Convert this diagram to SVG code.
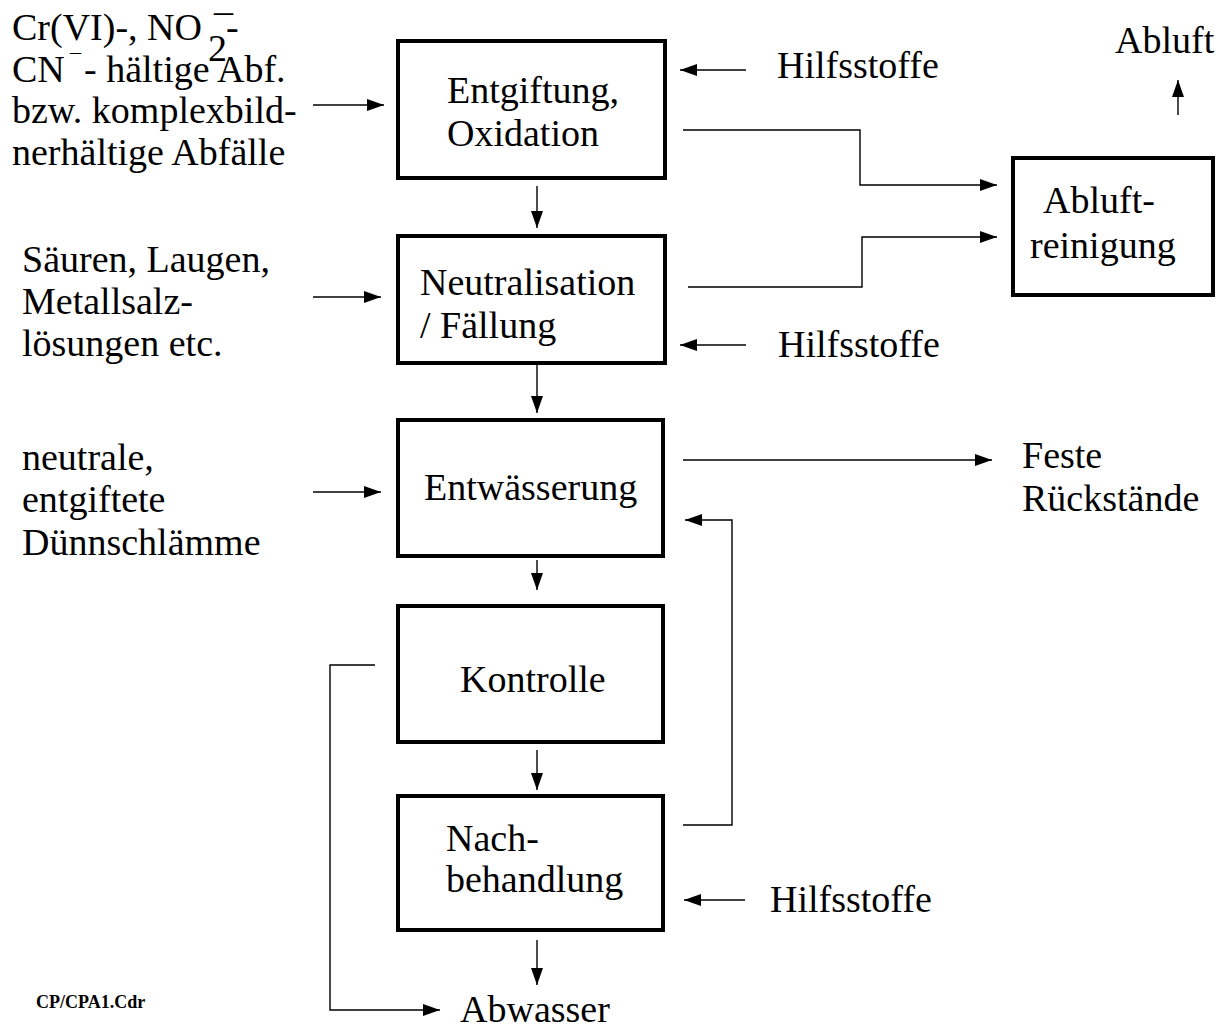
<svg xmlns="http://www.w3.org/2000/svg" width="1225" height="1029" viewBox="0 0 1225 1029">
<defs>
<marker id="ah" markerUnits="userSpaceOnUse" markerWidth="18" markerHeight="12" refX="17" refY="6" orient="auto">
<path d="M0,0 L17,6 L0,12 Z" fill="#000"/>
</marker>
<style>
.box{fill:#fff;stroke:#000;stroke-width:4}
.t{font-family:"Liberation Serif","Times New Roman",serif;font-size:38px;fill:#000}
.c{fill:none;stroke:#000;stroke-width:1.4}
.a{fill:none;stroke:#000;stroke-width:1.4;marker-end:url(#ah)}
.s{font-family:"Liberation Serif","Times New Roman",serif;font-size:18px;font-weight:bold;fill:#000}
</style>
</defs>
<rect width="1225" height="1029" fill="#fff"/>

<g id="connectors">
<line class="a" x1="537" y1="186" x2="537" y2="228"/>
<line class="a" x1="537" y1="365" x2="537" y2="413"/>
<line class="a" x1="537" y1="560" x2="537" y2="590"/>
<line class="a" x1="537" y1="750" x2="537" y2="790"/>
<line class="a" x1="537" y1="940" x2="537" y2="985"/>
<line class="a" x1="313" y1="105" x2="384" y2="105"/>
<line class="a" x1="313" y1="297" x2="381" y2="297"/>
<line class="a" x1="313" y1="492" x2="381" y2="492"/>
<line class="a" x1="746" y1="70" x2="680" y2="70"/>
<line class="a" x1="746" y1="345" x2="680" y2="345"/>
<line class="a" x1="745" y1="900" x2="684" y2="900"/>
<polyline class="a" points="683,130 860,130 860,185 997,185"/>
<polyline class="a" points="688,287 862,287 862,237 997,237"/>
<line class="a" x1="683" y1="460" x2="992" y2="460"/>
<polyline class="a" points="683,825 732,825 732,520 685,520"/>
<polyline class="a" points="375,665 330,665 330,1010 440,1010"/>
<line class="a" x1="1178" y1="115" x2="1178" y2="80"/>
</g>

<g id="entgiftung">
<rect class="box" x="398" y="41" width="267" height="137"/>
<text class="t" x="447" y="103">Entgiftung,</text>
<text class="t" x="447" y="146">Oxidation</text>
</g>
<g id="neutralisation">
<rect class="box" x="398" y="236" width="267" height="127"/>
<text class="t" x="420" y="295">Neutralisation</text>
<text class="t" x="420" y="338">/ Fällung</text>
</g>
<g id="entwaesserung">
<rect class="box" x="398" y="420" width="265" height="136"/>
<text class="t" x="424" y="500">Entwässerung</text>
</g>
<g id="kontrolle">
<rect class="box" x="398" y="606" width="265" height="136"/>
<text class="t" x="460" y="692">Kontrolle</text>
</g>
<g id="nachbehandlung">
<rect class="box" x="398" y="796" width="265" height="134"/>
<text class="t" x="446" y="851">Nach-</text>
<text class="t" x="446" y="892">behandlung</text>
</g>
<g id="abluftreinigung">
<rect class="box" x="1013" y="158" width="200" height="137"/>
<text class="t" x="1043" y="213">Abluft-</text>
<text class="t" x="1030" y="258">reinigung</text>
</g>

<g id="input-cr">
<text class="t" x="12" y="40">Cr(VI)-, NO<tspan x="208" y="61">2</tspan><tspan x="214" y="42">¯</tspan><tspan x="226" y="40">-</tspan></text>
<text class="t" x="12" y="82">CN<tspan x="70" y="69" style="font-size:22px">¯</tspan><tspan x="84" y="82">- hältige Abf.</tspan></text>
<text class="t" x="12" y="123">bzw. komplexbild-</text>
<text class="t" x="12" y="165">nerhältige Abfälle</text>
</g>
<g id="input-saeuren">
<text class="t" x="22" y="272">Säuren, Laugen,</text>
<text class="t" x="22" y="314">Metallsalz-</text>
<text class="t" x="22" y="356">lösungen etc.</text>
</g>
<g id="input-neutral">
<text class="t" x="22" y="470">neutrale,</text>
<text class="t" x="22" y="512">entgiftete</text>
<text class="t" x="22" y="555">Dünnschlämme</text>
</g>
<g id="hilfsstoffe-1"><text class="t" x="777" y="78">Hilfsstoffe</text></g>
<g id="hilfsstoffe-2"><text class="t" x="778" y="357">Hilfsstoffe</text></g>
<g id="hilfsstoffe-3"><text class="t" x="770" y="912">Hilfsstoffe</text></g>
<g id="abluft"><text class="t" x="1115" y="53">Abluft</text></g>
<g id="feste"><text class="t" x="1022" y="468">Feste</text><text class="t" x="1022" y="511">Rückstände</text></g>
<g id="abwasser"><text class="t" x="460" y="1022">Abwasser</text></g>
<text class="s" x="36" y="1008">CP/CPA1.Cdr</text>
</svg>
